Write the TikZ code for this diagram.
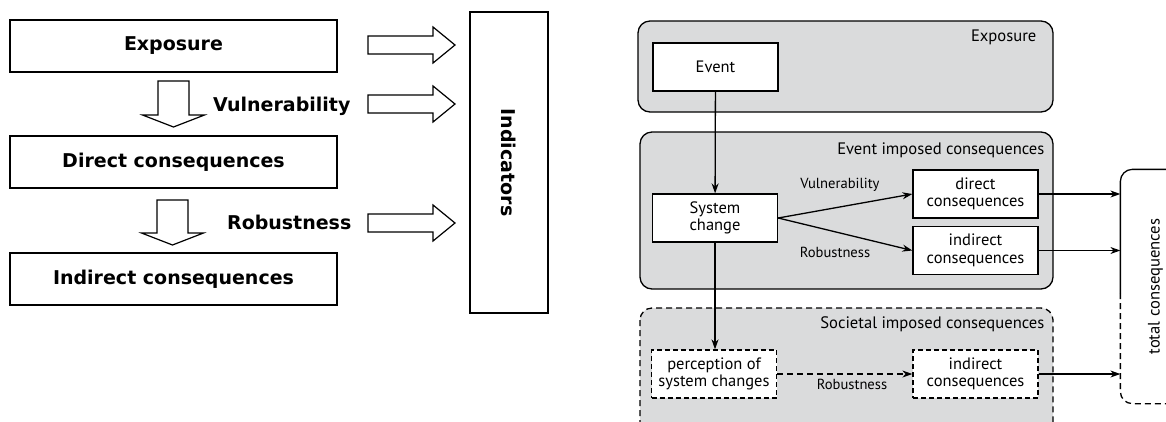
\documentclass[tikz,border=0pt]{standalone}
\usepackage{fontspec}
\newfontfamily\leftfont{DejaVu Sans}
\newfontfamily\rightfont{PT Sans}
\usetikzlibrary{positioning,arrows.meta}
\definecolor{groupgray}{RGB}{218,219,220}

\begin{document}
\begin{tikzpicture}
    [x=1pt,y=-1pt, line width=1.3pt,
     lbox/.style={draw, minimum width=327, minimum height=52, font=\leftfont\bfseries\fontsize{19}{21}\selectfont},
     llabel/.style={font=\leftfont\bfseries\fontsize{19}{21}\selectfont, anchor=east, inner sep=0pt},
     blockarrow/.style={draw, fill=white, line width=1.2pt},
     group/.style={draw, fill=groupgray, rounded corners=12pt},
     glabel/.style={anchor=east, inner sep=0pt, font=\rightfont\fontsize{16.6}{18}\selectfont},
     rbox/.style={draw, fill=white, minimum width=125, minimum height=48, align=center, inner sep=1pt, font=\rightfont\fontsize{16.5}{17.5}\selectfont},
     rlabel/.style={inner sep=0pt, font=\rightfont\fontsize{14.6}{16}\selectfont},
     tip/.style={-{Stealth[length=10pt,width=7pt]}}]
  \useasboundingbox (0,0) rectangle (1166,421);

  % left: chain of consequences
  \node[lbox] (lexp) at (173.5,46) {Exposure};
  \node[lbox] (ldir) at (173.5,162) {Direct consequences};
  \node[lbox] (lind) at (173.5,279) {Indirect consequences};
  \node[draw, minimum width=78, minimum height=301] (ind) at (509,162.5) {};
  \node[rotate=-90, font=\leftfont\bfseries\fontsize{19}{21}\selectfont] (indtext) at (ind.center) {Indicators};

  \node[llabel] (lvul) at (351,106) {Vulnerability};
  \node[llabel] (lrob) at (352,222) {Robustness};

  \foreach \top/\head/\x in {81/115/173.5, 200/233/172.5}
    \draw[blockarrow] (\x-15.5,\top) -- (\x+15.5,\top) -- (\x+15.5,\head) -- (\x+31,\head)
      -- (\x,\head+12) -- (\x-31,\head) -- (\x-15.5,\head) -- cycle;
  \foreach \y in {45,104,223}
    \draw[blockarrow] (368,\y-9) -- (433,\y-9) -- (433,\y-18) -- (455,\y)
      -- (433,\y+18) -- (433,\y+9) -- (368,\y+9) -- cycle;

  % right: groups
  \draw[group] (638,21) rectangle (1053,112);
  \draw[group] (640,132) rectangle (1053,289);
  \draw[group, dashed, dash pattern=on 6pt off 4pt] (640,308) rectangle (1053,440);
  \node[glabel] (gexp) at (1037,37) {Exposure};
  \node[glabel] (gevt) at (1045,150) {Event imposed consequences};
  \node[glabel] (gsoc) at (1045,324) {Societal imposed consequences};

  \node[rbox] (event) at (715.5,67) {Event};
  \node[rbox] (sys) at (715,218) {System\\change};
  \node[rbox] (direct) at (975.5,194) {direct\\consequences};
  \node[rbox] (indirect) at (975.5,250.5) {indirect\\consequences};
  \node[rbox, dashed, dash pattern=on 5pt off 3pt] (perc) at (714,374) {perception of\\system changes};
  \node[rbox, dashed, dash pattern=on 5pt off 3pt] (socind) at (975.5,374) {indirect\\consequences};

  \node[minimum width=69, minimum height=233, inner sep=0pt] (total) at (1155.5,286.5)
    {\rotatebox{90}{\rightfont\fontsize{16.6}{18}\selectfont total consequences}};
  \draw (total.west |- 0,293) -- (total.west |- 0,182) [rounded corners=12pt] -- (total.north west) -- (total.north east);
  \draw[dashed, dash pattern=on 6pt off 4pt] (total.west |- 0,293) [rounded corners=12pt] -- (total.south west) -- (total.south east);

  \node[rlabel] (vul) at (840,185) {Vulnerability};
  \node[rlabel] (rob) at (835,252) {Robustness};
  \node[rlabel] (rob2) at (852,384) {Robustness};

  \draw[tip] (event) -- (sys);
  \draw[tip] (sys.south) -- (sys.south |- perc.north);
  \draw[tip] (sys.east) -- (direct.west);
  \draw[tip] (sys.east) -- (indirect.west);
  \draw[tip, dashed, dash pattern=on 6pt off 4pt] (perc.east) -- (socind.west);
  \foreach \from in {direct, indirect, socind}
    \draw[tip] (\from.east) -- (\from.east -| total.west);
\end{tikzpicture}
\end{document}
